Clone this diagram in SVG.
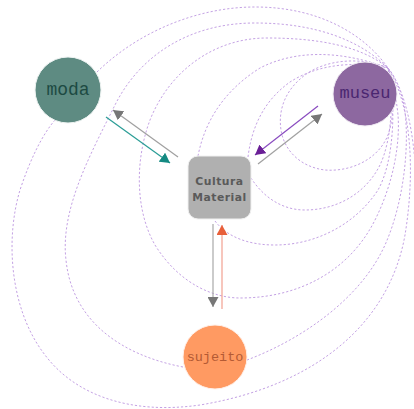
<svg xmlns="http://www.w3.org/2000/svg" width="414" height="409" viewBox="0 0 414 409">
<defs>
<style>
.orb{fill:none;stroke:#c4a2e4;stroke-width:1;stroke-dasharray:2.2 2}
.lbl{font-family:"Liberation Mono","Courier New",monospace;text-anchor:middle}
.cm{font-family:"DejaVu Sans","Liberation Sans",sans-serif;font-weight:bold;font-size:10.8px;fill:#5a5a5a;text-anchor:middle;letter-spacing:0.5px}
</style>
<marker id="hTeal" markerUnits="userSpaceOnUse" markerWidth="11" markerHeight="11" refX="10" refY="5.5" orient="auto"><path d="M0,0 L10,5.5 L0,11 z" fill="#158a82"/></marker>
<marker id="hGrey" markerUnits="userSpaceOnUse" markerWidth="11" markerHeight="11" refX="10" refY="5.5" orient="auto"><path d="M0,0 L10,5.5 L0,11 z" fill="#777777"/></marker>
<marker id="hPurple" markerUnits="userSpaceOnUse" markerWidth="11" markerHeight="11" refX="10" refY="5.5" orient="auto"><path d="M0,0 L10,5.5 L0,11 z" fill="#6a1f96"/></marker>
<marker id="hOrange" markerUnits="userSpaceOnUse" markerWidth="11" markerHeight="11" refX="10" refY="5.5" orient="auto"><path d="M0,0 L10,5.5 L0,11 z" fill="#e8603a"/></marker>
</defs>
<rect width="414" height="409" fill="#ffffff"/>
<g id="connectors">
<g id="orbits">
<path class="orb" d="M97,72 C140,30 200,7 255,7 C320,7 365,35 388,68 C405,90 414,130 416,180 C417,220 418,260 420,300"/>
<path class="orb" d="M183,367 C120,355 72,320 66,260 C60,210 90,155 115,105 C140,55 190,23 255,23 C315,23 360,40 388,68"/>
<path class="orb" d="M388,68 C360,45 315,38 267,38 C215,38 170,70 150,120 C135,160 135,210 155,245 C180,285 215,298 240,298 C300,298 350,270 375,220 C395,180 400,140 398,115 C396,95 392,80 388,68"/>
<path class="orb" d="M198,156 C205,120 225,90 260,68 C295,50 340,50 388,68"/>
<path class="orb" d="M248,157 C252,125 265,100 290,82 C315,66 350,60 388,68"/>
<path class="orb" d="M388,68 C360,56 325,60 305,75 C285,90 278,110 281,130 C284,150 300,167 325,170 C350,172 378,160 388,135 C395,115 394,88 388,68"/>
<path class="orb" d="M251,178 C262,195 280,210 305,210 C335,210 365,195 380,165 C392,140 394,95 388,68"/>
<path class="orb" d="M215,221 C228,238 250,245 275,245 C315,245 355,225 378,190 C395,160 396,100 388,68"/>
<path class="orb" d="M247,360 C300,340 360,300 385,245 C405,200 410,140 404,105 C400,88 395,76 388,68"/>
<path class="orb" d="M55,120 C42,135 30,160 20,190 C5,240 10,310 45,355 C75,395 130,415 200,405 C320,385 390,320 405,235 C414,180 414,110 388,68"/>
</g>
<g id="arrows" fill="none" stroke-width="1.2">
<line x1="106" y1="117" x2="170" y2="163" stroke="#2a9d96" marker-end="url(#hTeal)"/>
<line x1="178" y1="157" x2="113" y2="110" stroke="#a0a0a0" marker-end="url(#hGrey)"/>
<line x1="318" y1="106" x2="255" y2="155" stroke="#8a4cc0" marker-end="url(#hPurple)"/>
<line x1="258" y1="164" x2="322" y2="114" stroke="#a0a0a0" marker-end="url(#hGrey)"/>
<line x1="213" y1="224" x2="213" y2="307" stroke="#a8a8a8" marker-end="url(#hGrey)"/>
<line x1="222" y1="309" x2="222" y2="225" stroke="#f2a090" marker-end="url(#hOrange)"/>
</g>
</g>
<g id="moda">
<circle cx="68" cy="90" r="33" fill="#5e8b82" stroke="#eef3f2" stroke-width="1"/>
<text class="lbl" x="68" y="95" font-size="18" fill="#1d4a42">moda</text>
</g>
<g id="museu">
<circle cx="365" cy="94" r="32" fill="#8d68a0" stroke="#f1ecf4" stroke-width="1"/>
<text class="lbl" x="365" y="98" font-size="17" fill="#4a2670">museu</text>
</g>
<g id="cultura-material">
<rect x="188" y="156" width="63" height="63" rx="10" fill="#b0b0b0" stroke="#f0f0f0" stroke-width="1"/>
<text class="cm" x="219.5" y="184.5">Cultura</text>
<text class="cm" x="219.5" y="200.5">Material</text>
</g>
<g id="sujeito">
<circle cx="215" cy="357" r="32" fill="#ff9a62" stroke="#fff1ea" stroke-width="1"/>
<text class="lbl" x="215" y="361" font-size="13.5" fill="#b45a34">sujeito</text>
</g>
</svg>
